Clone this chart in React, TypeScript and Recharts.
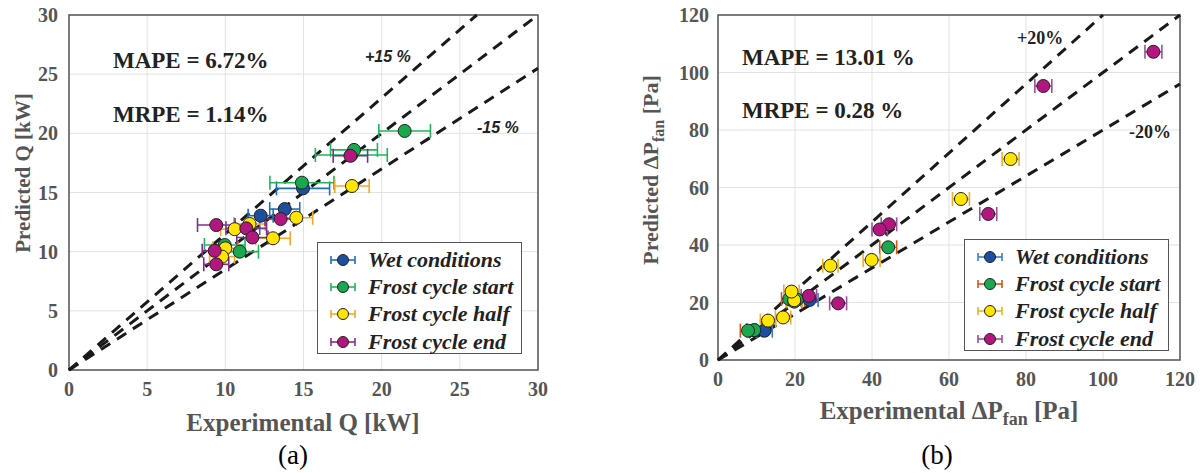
import React from "react";
import {
  ScatterChart,
  Scatter,
  XAxis,
  YAxis,
  CartesianGrid,
  ErrorBar,
  ReferenceLine,
  ReferenceArea,
} from "recharts";

// (a) heat transfer Q [kW]: x = experimental, y = predicted, ex = x error
const wetQ = [
  { x: 14.97, y: 15.35, ex: 1.7 },
  { x: 13.8, y: 13.6, ex: 0.96 },
  { x: 12.26, y: 13.04, ex: 0.8 },
  { x: 11.4, y: 12.0, ex: 0.8 },
];
const startQ = [
  { x: 21.47, y: 20.2, ex: 1.65 },
  { x: 18.06, y: 18.17, ex: 2.3 },
  { x: 18.23, y: 18.6, ex: 1.5 },
  { x: 14.9, y: 15.83, ex: 2.05 },
  { x: 10.92, y: 10.0, ex: 1.2 },
  { x: 9.96, y: 10.56, ex: 1.3 },
];
const halfQ = [
  { x: 18.1, y: 15.55, ex: 1.1 },
  { x: 14.54, y: 12.87, ex: 1.05 },
  { x: 11.55, y: 12.34, ex: 1.0 },
  { x: 10.6, y: 11.9, ex: 0.9 },
  { x: 13.05, y: 11.13, ex: 1.1 },
  { x: 10.0, y: 10.28, ex: 0.8 },
  { x: 9.79, y: 9.58, ex: 0.8 },
];
const endQ = [
  { x: 18.0, y: 18.1, ex: 1.1 },
  { x: 13.54, y: 12.76, ex: 1.0 },
  { x: 11.34, y: 11.97, ex: 1.3 },
  { x: 11.73, y: 11.2, ex: 1.0 },
  { x: 9.42, y: 12.25, ex: 1.2 },
  { x: 9.32, y: 10.08, ex: 0.8 },
  { x: 9.42, y: 8.93, ex: 0.8 },
];

// (b) fan pressure drop [Pa]
const wetP = [
  { x: 9.5, y: 10.3, ex: 2 },
  { x: 12.1, y: 10.2, ex: 2 },
  { x: 23.8, y: 20.9, ex: 2.2 },
];
const startP = [
  { x: 44.2, y: 39.2, ex: 2.2 },
  { x: 20.5, y: 21.0, ex: 2 },
  { x: 18.5, y: 21.2, ex: 2 },
  { x: 19.8, y: 20.3, ex: 2 },
  { x: 9.4, y: 10.4, ex: 2 },
  { x: 7.8, y: 10.2, ex: 2 },
];
const halfP = [
  { x: 76.0, y: 69.9, ex: 2.2 },
  { x: 63.1, y: 56.0, ex: 2.2 },
  { x: 39.9, y: 34.8, ex: 2.2 },
  { x: 29.2, y: 32.8, ex: 2 },
  { x: 19.8, y: 20.8, ex: 2 },
  { x: 19.1, y: 23.8, ex: 2 },
  { x: 16.9, y: 14.8, ex: 2 },
  { x: 13.0, y: 13.7, ex: 2 },
];
const endP = [
  { x: 113.1, y: 107.2, ex: 2.2 },
  { x: 84.5, y: 95.3, ex: 2.2 },
  { x: 70.2, y: 50.8, ex: 2.2 },
  { x: 44.4, y: 47.2, ex: 2 },
  { x: 42.0, y: 45.4, ex: 2 },
  { x: 31.2, y: 19.7, ex: 2.2 },
  { x: 23.6, y: 22.3, ex: 2 },
];

const ticksQ = [0, 5, 10, 15, 20, 25, 30];
const ticksP = [0, 20, 40, 60, 80, 100, 120];
const bandsQ = [1, 1.15, 0.85];
const bandsP = [1, 1.2, 0.8];
const seriesNames = [
  "Wet conditions",
  "Frost cycle start",
  "Frost cycle half",
  "Frost cycle end",
];

const MARKER = ["#1d4f9e", "#1aa84f", "#ffe500", "#b3177f"];
const BAR_A = ["#1f6fb8", "#22b35c", "#f2a72a", "#7e2f8e"];
const BAR_B = ["#3b80c2", "#d95319", "#edb120", "#9b4f9c"];

const SERIF = '"Liberation Serif", "Times New Roman", serif';
const SANS = '"Liberation Sans", Arial, sans-serif';

const tickStyle = {
  fill: "#555",
  fontSize: 20,
  fontWeight: "bold",
  fontFamily: SERIF,
};

function dot(color: string) {
  return (p: any) => (
    <circle cx={p.cx} cy={p.cy} r={6.5} fill={color} stroke="#222" strokeWidth={1} />
  );
}

function segEnd(f: number, max: number) {
  return f >= 1 ? { x: max / f, y: max } : { x: max, y: max * f };
}

function Panel({
  sets,
  barColors,
  ticks,
  bands,
  max,
  width,
  height,
  yWidth,
  right,
  yMargin,
}: any) {
  return (
    <ScatterChart
      width={width}
      height={height}
      margin={{ top: 15, right, left: 0, bottom: 0 }}
    >
      <CartesianGrid stroke="#e2e2e2" strokeWidth={1} />
      <XAxis
        type="number"
        dataKey="x"
        domain={[0, max]}
        ticks={ticks}
        height={60}
        axisLine={false}
        tickLine={false}
        tickSize={0}
        tickMargin={12}
        tick={tickStyle}
        allowDataOverflow
      />
      <YAxis
        type="number"
        dataKey="y"
        domain={[0, max]}
        ticks={ticks}
        width={yWidth}
        axisLine={false}
        tickLine={false}
        tickSize={0}
        tickMargin={yMargin}
        tick={tickStyle}
        allowDataOverflow
      />
      <ReferenceArea
        x1={0}
        x2={max}
        y1={0}
        y2={max}
        fill="none"
        stroke="#555"
        strokeWidth={1.5}
        ifOverflow="visible"
      />
      {bands.map((f: number) => (
        <ReferenceLine
          key={f}
          segment={[{ x: 0, y: 0 }, segEnd(f, max)]}
          stroke="#1a1a1a"
          strokeWidth={3}
          strokeDasharray="11 8"
          ifOverflow="visible"
        />
      ))}
      {sets.map((d: any[], i: number) => (
        <Scatter
          key={seriesNames[i]}
          name={seriesNames[i]}
          data={d}
          shape={dot(MARKER[i])}
          isAnimationActive={false}
        >
          <ErrorBar
            dataKey="ex"
            direction="x"
            width={7}
            stroke={barColors[i]}
            strokeWidth={1.6}
          />
        </Scatter>
      ))}
    </ScatterChart>
  );
}

function LegendBox({ left, top, barColors }: any) {
  return (
    <div
      style={{
        position: "absolute",
        left,
        top,
        width: 205,
        height: 112,
        border: "1.5px solid #555",
        background: "#fff",
        paddingTop: 3,
        boxSizing: "border-box",
      }}
    >
      {seriesNames.map((n, i) => (
        <div
          key={n}
          style={{ display: "flex", alignItems: "center", height: 27.3 }}
        >
          <svg width={50} height={16} style={{ flexShrink: 0 }}>
            <line x1={13} x2={37} y1={8} y2={8} stroke={barColors[i]} strokeWidth={1.6} />
            <line x1={13} x2={13} y1={4} y2={12} stroke={barColors[i]} strokeWidth={1.6} />
            <line x1={37} x2={37} y1={4} y2={12} stroke={barColors[i]} strokeWidth={1.6} />
            <circle cx={25} cy={8} r={5.5} fill={MARKER[i]} stroke="#222" strokeWidth={1} />
          </svg>
          <span
            style={{
              fontFamily: SERIF,
              fontStyle: "italic",
              fontWeight: "bold",
              fontSize: 22,
              color: "#222",
              lineHeight: "22px",
            }}
          >
            {n}
          </span>
        </div>
      ))}
    </div>
  );
}

function Txt({ left, top, size, children, style }: any) {
  return (
    <div
      style={{
        position: "absolute",
        left,
        top,
        transform: "translateY(-50%)",
        whiteSpace: "nowrap",
        fontFamily: SERIF,
        fontWeight: "bold",
        fontSize: size,
        lineHeight: 1,
        color: "#222",
        ...style,
      }}
    >
      {children}
    </div>
  );
}

const axisLbl = { color: "#555", fontWeight: "bold", fontFamily: SERIF };

export default function App() {
  return (
    <div
      style={{
        position: "absolute",
        left: 0,
        top: 0,
        width: 1202,
        height: 473,
        background: "#fff",
        overflow: "hidden",
      }}
    >
      <div style={{ position: "absolute", left: 0, top: 0 }}>
        <Panel
          sets={[wetQ, startQ, halfQ, endQ]}
          barColors={BAR_A}
          ticks={ticksQ}
          bands={bandsQ}
          max={30}
          width={550}
          height={430}
          yWidth={69}
          right={12}
          yMargin={11}
        />
      </div>
      <div style={{ position: "absolute", left: 640, top: 0 }}>
        <Panel
          sets={[wetP, startP, halfP, endP]}
          barColors={BAR_B}
          ticks={ticksP}
          bands={bandsP}
          max={120}
          width={560}
          height={420}
          yWidth={78}
          right={20}
          yMargin={9}
        />
      </div>

      <Txt left={113} top={60} size={23}>MAPE = 6.72%</Txt>
      <Txt left={113} top={114} size={23}>MRPE = 1.14%</Txt>
      <Txt left={365} top={57} size={16} style={{ fontFamily: SANS, fontStyle: "italic" }}>+15 %</Txt>
      <Txt left={477} top={128} size={16} style={{ fontFamily: SANS, fontStyle: "italic" }}>-15 %</Txt>

      <Txt left={742} top={57} size={23}>MAPE = 13.01 %</Txt>
      <Txt left={742} top={110} size={23}>MRPE = 0.28 %</Txt>
      <Txt left={1017} top={38} size={18}>+20%</Txt>
      <Txt left={1129} top={132} size={18}>-20%</Txt>

      <LegendBox left={317} top={242} barColors={BAR_A} />
      <LegendBox left={964} top={239} barColors={BAR_B} />

      {/* axis titles */}
      <div style={{ position: "absolute", left: 303, top: 423, transform: "translate(-50%,-50%)", whiteSpace: "nowrap", fontSize: 25, ...axisLbl }}>
        Experimental Q [kW]
      </div>
      <div style={{ position: "absolute", left: 23, top: 173, transform: "translate(-50%,-50%) rotate(-90deg)", whiteSpace: "nowrap", fontSize: 21, ...axisLbl }}>
        Predicted Q [kW]
      </div>
      <div style={{ position: "absolute", left: 949, top: 413, transform: "translate(-50%,-50%)", whiteSpace: "nowrap", fontSize: 25, ...axisLbl }}>
        Experimental ΔP<sub style={{ fontSize: 18 }}>fan</sub> [Pa]
      </div>
      <div style={{ position: "absolute", left: 653, top: 170, transform: "translate(-50%,-50%) rotate(-90deg)", whiteSpace: "nowrap", fontSize: 22, ...axisLbl }}>
        Predicted ΔP<sub style={{ fontSize: 16 }}>fan</sub> [Pa]
      </div>

      <div style={{ position: "absolute", left: 293, top: 455, transform: "translate(-50%,-50%)", fontFamily: SERIF, fontSize: 27, color: "#000" }}>
        (a)
      </div>
      <div style={{ position: "absolute", left: 937, top: 455, transform: "translate(-50%,-50%)", fontFamily: SERIF, fontSize: 27, color: "#000" }}>
        (b)
      </div>
    </div>
  );
}
